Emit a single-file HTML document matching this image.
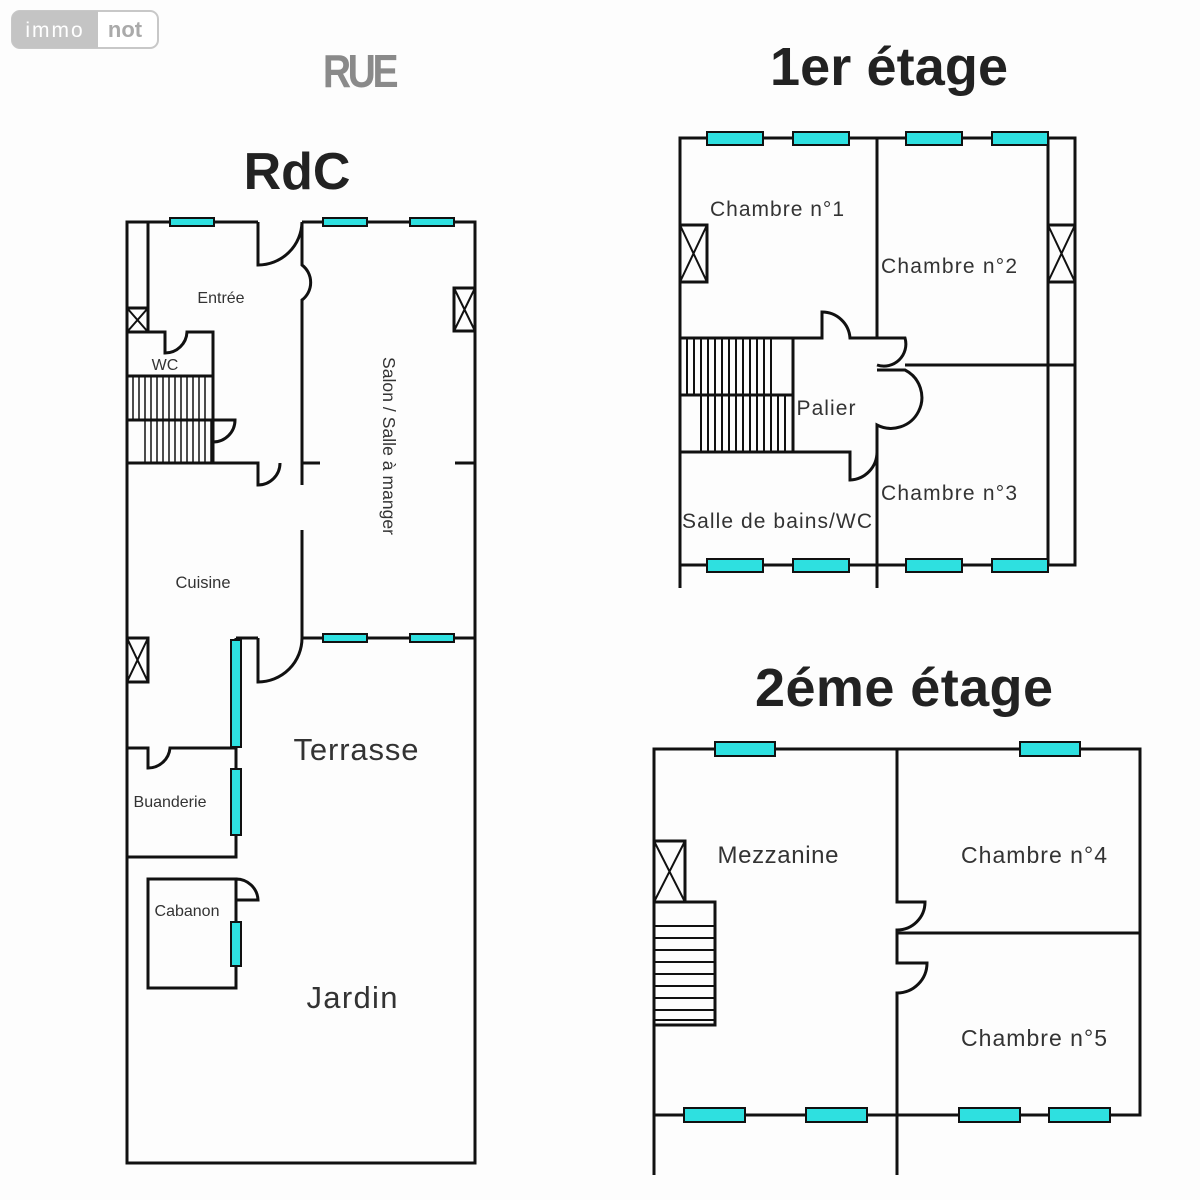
<!DOCTYPE html>
<html><head><meta charset="utf-8"><style>
html,body{margin:0;padding:0;background:#fff;}
svg{display:block;}
text{font-family:"Liberation Sans",sans-serif;fill:#333;}
</style></head><body>
<svg width="1200" height="1200" viewBox="0 0 1200 1200" xmlns="http://www.w3.org/2000/svg">
<rect width="1200" height="1200" fill="#fdfdfd"/>
<!-- logo -->
<rect x="12" y="11" width="146" height="37" rx="8" fill="#fff" stroke="#c8c8c8" stroke-width="2"/>
<path d="M20 11 H98 V48 H20 A8 8 0 0 1 12 40 V19 A8 8 0 0 1 20 11Z" fill="#c4c4c4"/>
<text x="55" y="37" font-size="21" text-anchor="middle" style="fill:#fff;letter-spacing:2px">immo</text>
<text x="125" y="37" font-size="22" font-weight="bold" text-anchor="middle" style="fill:#aaa">not</text>
<text x="359" y="87" font-size="46" font-weight="bold" text-anchor="middle" style="fill:#8a8a8a;letter-spacing:-4px" transform="translate(359 0) scale(0.85 1) translate(-359 0)">RUE</text>
<text x="297" y="189" font-size="52" font-weight="bold" text-anchor="middle" style="fill:#222">RdC</text>
<text x="889" y="85" font-size="54" font-weight="bold" text-anchor="middle" style="fill:#222" textLength="238">1er étage</text>
<text x="904" y="706" font-size="54" font-weight="bold" text-anchor="middle" style="fill:#222" textLength="298">2éme étage</text>

<g fill="none" stroke="#111" stroke-width="3">
<!-- RdC outer -->
<path d="M258 222 H127 V1163 H475 V222 H302"/>
<path d="M258 222 V265 A44 44 0 0 0 302 222"/>
<path d="M302 222 V265 A22 22 0 0 1 302 300 V462"/>
<path d="M148 222 V308"/>
<rect x="127" y="308" width="21" height="24"/>
<path d="M127 308 L148 332 M148 308 L127 332" stroke-width="2"/>
<path d="M127 332 H165 V353 A22 22 0 0 0 187 332 H213 V463"/>
<path d="M127 376 H213 M127 420 H213 M213 420 H235 A22 22 0 0 1 213 442"/>
<path d="M127 463 H258 V485 A22 22 0 0 0 280 463 M302 440 V485 M302 463 H320 M455 463 H475"/>
<path d="M302 530 V638 H475"/>
<path d="M258 638 V682 A44 44 0 0 0 302 638"/>
<path d="M236 638 H258"/>
<rect x="127" y="638" width="21" height="44"/>
<path d="M127 638 L148 682 M148 638 L127 682" stroke-width="2"/>
<path d="M127 748 H148 V768 A22 22 0 0 0 170 748 H236 V857 H127"/>
<path d="M236 638 V748"/>
<rect x="148" y="879" width="88" height="109"/>
<path d="M236 879 V900 H258 A22 22 0 0 0 236 879"/>
<rect x="454" y="288" width="21" height="43"/>
<path d="M454 288 L475 331 M475 288 L454 331" stroke-width="2"/>
</g>
<g stroke="#111" stroke-width="1.5">
<path d="M133 376V420M139 376V420M145 376V420M151 376V420M157 376V420M163 376V420M169 376V420M175 376V420M181 376V420M187 376V420M193 376V420M199 376V420M205 376V420"/>
<path d="M145 420V463M151 420V463M157 420V463M163 420V463M169 420V463M175 420V463M181 420V463M187 420V463M193 420V463M199 420V463M205 420V463M211 420V463"/>
</g>
<g fill="#2ee0e0" stroke="#111" stroke-width="2">
<rect x="170" y="218" width="44" height="8"/>
<rect x="323" y="218" width="44" height="8"/>
<rect x="410" y="218" width="44" height="8"/>
<rect x="323" y="634" width="44" height="8"/>
<rect x="410" y="634" width="44" height="8"/>
<rect x="231" y="640" width="10" height="107"/>
<rect x="231" y="769" width="10" height="66"/>
<rect x="231" y="922" width="10" height="44"/>
</g>
<text x="221" y="303" font-size="16" text-anchor="middle">Entrée</text>
<text x="165" y="370" font-size="16" text-anchor="middle">WC</text>
<text x="377" y="446" font-size="17.5" text-anchor="middle" transform="rotate(90 377 446)" dy="-6" textLength="178">Salon / Salle à manger</text>
<text x="203" y="588" font-size="16.5" text-anchor="middle">Cuisine</text>
<text x="356" y="760" font-size="31" text-anchor="middle" textLength="125">Terrasse</text>
<text x="170" y="807" font-size="16" text-anchor="middle">Buanderie</text>
<text x="187" y="916" font-size="16" text-anchor="middle">Cabanon</text>
<text x="352" y="1008" font-size="31" text-anchor="middle" textLength="91">Jardin</text>

<!-- 1er étage -->
<g fill="none" stroke="#111" stroke-width="3">
<path d="M680 588 V138 H1075 V565 H680 M877 565 V588"/>
<path d="M1048 138 V565"/>
<path d="M877 138 V338 H905 A22 22 0 0 1 877 365"/>
<path d="M905 365 H1075 M877 370 H905 A25 25 0 0 1 877 425 V588"/>
<path d="M680 338 H822 V312 A28 28 0 0 1 850 338 H877"/>
<path d="M793 338 V452 M680 395 H793 M680 452 H850 V480 A28 28 0 0 0 877 452"/>
<rect x="680" y="225" width="27" height="57"/>
<path d="M680 225 L707 282 M707 225 L680 282" stroke-width="2"/>
<rect x="1048" y="225" width="27" height="57"/>
<path d="M1048 225 L1075 282 M1075 225 L1048 282" stroke-width="2"/>
</g>
<g stroke="#111" stroke-width="2">
<path d="M687 338V395M694 338V395M701 338V395M708 338V395M715 338V395M722 338V395M729 338V395M736 338V395M743 338V395M750 338V395M757 338V395M764 338V395M771 338V395"/>
<path d="M701 395V452M708 395V452M715 395V452M722 395V452M729 395V452M736 395V452M743 395V452M750 395V452M757 395V452M764 395V452M771 395V452M778 395V452M785 395V452"/>
</g>
<g fill="#2ee0e0" stroke="#111" stroke-width="2">
<rect x="707" y="132" width="56" height="13"/><rect x="793" y="132" width="56" height="13"/>
<rect x="906" y="132" width="56" height="13"/><rect x="992" y="132" width="56" height="13"/>
<rect x="707" y="559" width="56" height="13"/><rect x="793" y="559" width="56" height="13"/>
<rect x="906" y="559" width="56" height="13"/><rect x="992" y="559" width="56" height="13"/>
</g>
<text x="777" y="216" font-size="21" text-anchor="middle" textLength="134">Chambre n°1</text>
<text x="949" y="273" font-size="21" text-anchor="middle" textLength="136">Chambre n°2</text>
<text x="826" y="415" font-size="21" text-anchor="middle" textLength="59">Palier</text>
<text x="949" y="500" font-size="21" text-anchor="middle" textLength="136">Chambre n°3</text>
<text x="777" y="528" font-size="21" text-anchor="middle" textLength="190">Salle de bains/WC</text>

<!-- 2eme -->
<g fill="none" stroke="#111" stroke-width="3">
<path d="M654 1175 V749 H1140 V1115 H654"/>
<path d="M897 749 V902 H925 A28 28 0 0 1 897 930 V933 H1140"/>
<path d="M897 1175 V993 A30 30 0 0 0 927 963 H897 V933"/>
<rect x="654" y="841" width="31" height="61"/>
<path d="M654 841 L685 902 M685 841 L654 902" stroke-width="2"/>
<rect x="654" y="902" width="61" height="123"/>
</g>
<g stroke="#111" stroke-width="2">
<path d="M654 926H715M654 938H715M654 950H715M654 962H715M654 974H715M654 986H715M654 998H715M654 1010H715M654 1020H715"/>
</g>
<g fill="#2ee0e0" stroke="#111" stroke-width="2">
<rect x="715" y="742" width="60" height="14"/><rect x="1020" y="742" width="60" height="14"/>
<rect x="684" y="1108" width="61" height="14"/><rect x="806" y="1108" width="61" height="14"/>
<rect x="959" y="1108" width="61" height="14"/><rect x="1049" y="1108" width="61" height="14"/>
</g>
<text x="778" y="863" font-size="24" text-anchor="middle" textLength="121">Mezzanine</text>
<text x="1034" y="863" font-size="23" text-anchor="middle" textLength="146">Chambre n°4</text>
<text x="1034" y="1046" font-size="23" text-anchor="middle" textLength="146">Chambre n°5</text>
</svg>
</body></html>
